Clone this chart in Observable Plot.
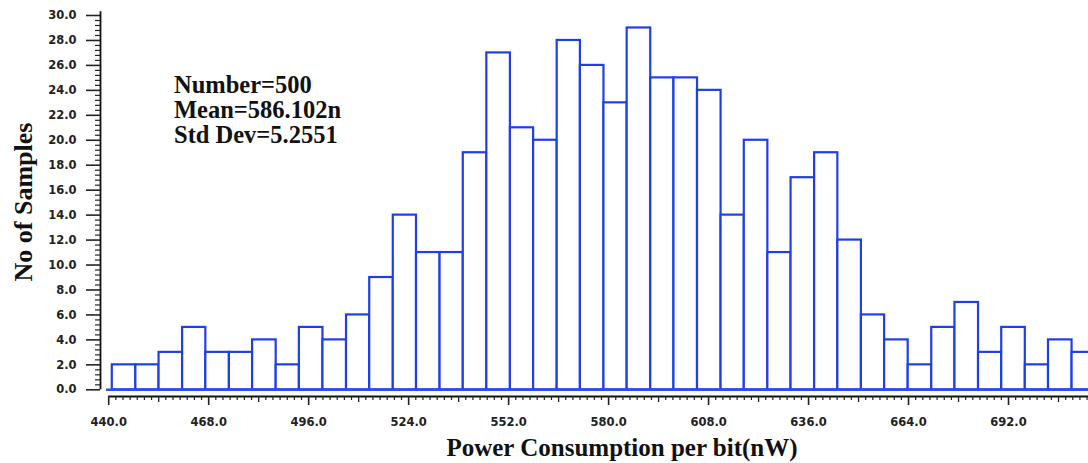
<!DOCTYPE html>
<html>
<head>
<meta charset="utf-8">
<script src="https://cdn.jsdelivr.net/npm/d3@7"></script>
<script src="https://cdn.jsdelivr.net/npm/@observablehq/plot@0.6"></script>
<style>
  html, body { margin: 0; padding: 0; background: #fff; overflow: hidden; }
  #chart svg { display: block; }
</style>
</head>
<body>
<div id="chart"></div>
<script>
// Histogram bin edges (nW)
const binEdges = [441.0, 447.6, 454.1, 460.7, 467.2, 473.8, 480.3, 486.9, 493.4, 500.0,
  506.6, 513.1, 519.7, 526.2, 532.8, 539.3, 545.9, 552.5, 559.0, 565.6,
  572.1, 578.7, 585.2, 591.8, 598.3, 604.9, 611.5, 618.0, 624.6, 631.1,
  637.7, 644.2, 650.8, 657.3, 663.9, 670.5, 677.0, 683.6, 690.1, 696.7,
  703.2, 709.8, 716.4];
// Number of samples in each bin
const counts = [2, 2, 3, 5, 3, 3, 4, 2, 5, 4,
  6, 9, 14, 11, 11, 19, 27, 21, 20, 28,
  26, 23, 29, 25, 25, 24, 14, 20, 11, 17,
  19, 12, 6, 4, 2, 5, 7, 3, 5, 2,
  4, 3];
// Axis tick values
const xTickValues = [440, 468, 496, 524, 552, 580, 608, 636, 664, 692];
const yTickValues = [0, 2, 4, 6, 8, 10, 12, 14, 16, 18, 20, 22, 24, 26, 28, 30];
// Texts
const statsLines = ["Number=500", "Mean=586.102n", "Std Dev=5.2551"];
const xTitle = "Power Consumption per bit(nW)";
const yTitle = "No of Samples";

const bins = counts.map((c, i) => ({x1: binEdges[i], x2: binEdges[i + 1], count: c}));
const xMedium = xTickValues.map(v => v + 14);
const xMinor = d3.range(440, 715, 2).filter(v => (v - 440) % 14 !== 0);
const yMinor = d3.range(0, 76).map(i => +(i * 0.4).toFixed(1)).filter(v => Math.abs(v / 2 - Math.round(v / 2)) > 1e-6);

const xMin = 437.7, xMax = 714.4;
const blue = "#1f3fe4";

const plot = Plot.plot({
  width: 1088,
  height: 463,
  marginLeft: 100,
  marginRight: 0,
  marginTop: 15,
  marginBottom: 67,
  style: {fontFamily: "DejaVu Sans", fontSize: "11.5px", fontWeight: "bold", color: "#222", background: "#fff"},
  x: {type: "linear", domain: [xMin, xMax], axis: null, label: null},
  y: {type: "linear", domain: [0, 30], insetBottom: 6.7, axis: null, label: null},
  marks: [
    Plot.rect(bins, {x1: "x1", x2: "x2", y1: 0, y2: "count", fill: "white", stroke: blue, strokeWidth: 2.2, clip: true}),
    Plot.ruleY([0], {x1: 439.4, x2: xMax, stroke: "#2f4fe8", strokeWidth: 2.4}),
    // y axis
    Plot.ruleX([xMin], {y1: 0, y2: 30.3, stroke: "#111", strokeWidth: 1.8}),
    Plot.axisY({ticks: yTickValues, tickSize: 14, tickPadding: 10, tickFormat: d => d.toFixed(1), strokeWidth: 1.6, label: null, color: "#222"}),
    Plot.axisY({ticks: yMinor, tickSize: 5, fill: "none", stroke: "#222", strokeWidth: 1.2, label: null}),
    // x axis
    Plot.ruleY([0], {x1: 440, x2: xMax, dy: 6.7, stroke: "#111", strokeWidth: 1.8}),
    Plot.axisX({ticks: xTickValues, tickSize: 9, tickPadding: 12, tickFormat: d => d.toFixed(1), strokeWidth: 1.6, label: null, color: "#222"}),
    Plot.axisX({ticks: xMedium, tickSize: 6, fill: "none", stroke: "#222", strokeWidth: 1.3, label: null}),
    Plot.axisX({ticks: xMinor, tickSize: 4, fill: "none", stroke: "#222", strokeWidth: 1.2, label: null})
  ]
});

document.getElementById("chart").appendChild(plot);

const svg = d3.select(plot);
const serif = "'Liberation Serif', 'Times New Roman', serif";

svg.append("text")
  .attr("x", 622).attr("y", 455.7)
  .attr("text-anchor", "middle")
  .style("font-family", serif).style("font-weight", "bold").style("font-size", "25px")
  .style("fill", "#111")
  .text(xTitle);

svg.append("text")
  .attr("transform", "translate(32,202) rotate(-90)")
  .attr("text-anchor", "middle")
  .style("font-family", serif).style("font-weight", "bold").style("font-size", "26px")
  .style("fill", "#111")
  .text(yTitle);

const ann = svg.append("g");
statsLines.forEach((s, i) => {
  ann.append("text")
    .attr("x", 174).attr("y", 93 + i * 25)
    .attr("text-anchor", "start")
    .style("font-family", serif).style("font-weight", "bold").style("font-size", "24.5px")
    .style("fill", "#111")
    .text(s);
});
</script>
</body>
</html>
